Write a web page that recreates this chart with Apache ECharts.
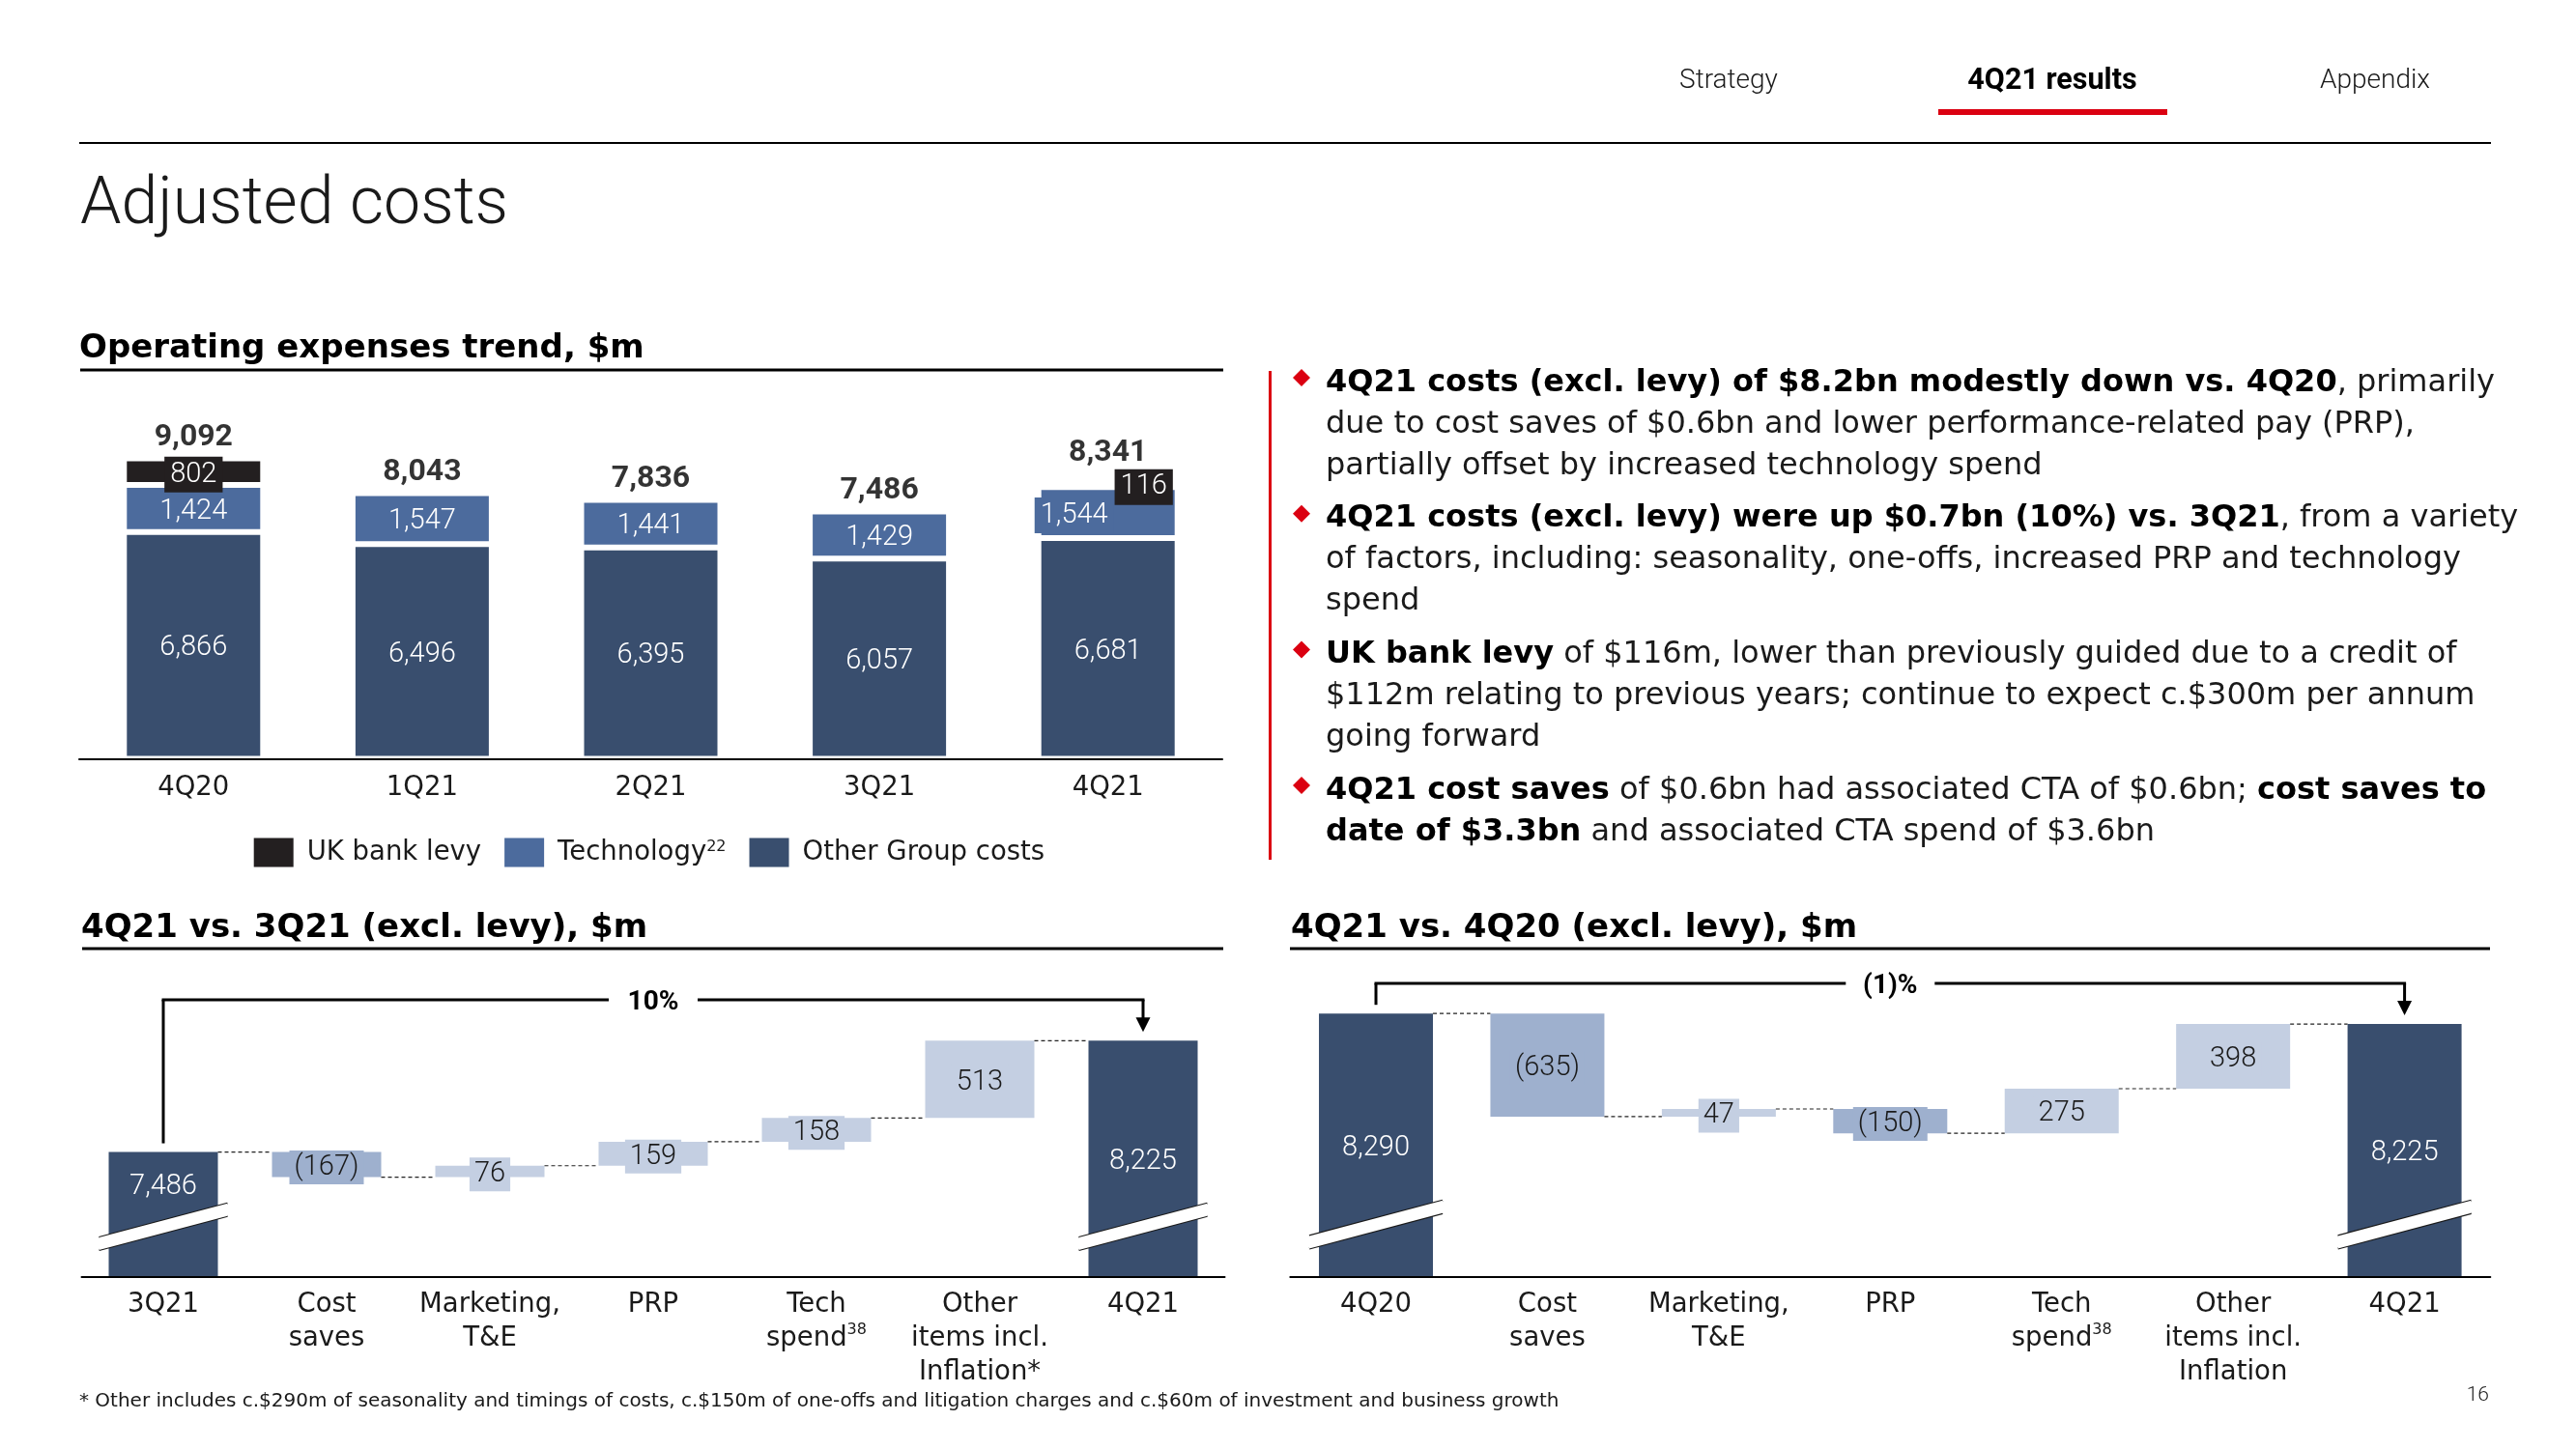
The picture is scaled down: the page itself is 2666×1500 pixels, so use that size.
<!DOCTYPE html>
<html><head><meta charset="utf-8">
<script src="https://cdn.jsdelivr.net/npm/echarts@6/dist/echarts.min.js"></script>
<style>html,body{margin:0;padding:0;background:#fff}#c{width:2666px;height:1500px}</style>
</head><body><div id="c"></div>
<script>
// ---------------- data ----------------
const trendCategories = ['4Q20', '1Q21', '2Q21', '3Q21', '4Q21'];
const otherGroupCosts = [6866, 6496, 6395, 6057, 6681];
const technologyCosts = [1424, 1547, 1441, 1429, 1544];
const ukBankLevy = [802, null, null, null, 116];
const trendTotals = [9092, 8043, 7836, 7486, 8341];
const legendNames = ['UK bank levy', 'Technology', 'Other Group costs'];

const wf1Labels = ['3Q21', 'Cost\nsaves', 'Marketing,\nT&E', 'PRP', 'Tech\nspend{sup|38}', 'Other\nitems incl.\nInflation*', '4Q21'];
const wf1Start = 7486;
const wf1Deltas = [-167, 76, 159, 158, 513];
const wf1End = 8225;
const wf1Change = '10%';

const wf2Labels = ['4Q20', 'Cost\nsaves', 'Marketing,\nT&E', 'PRP', 'Tech\nspend{sup|38}', 'Other\nitems incl.\nInflation', '4Q21'];
const wf2Start = 8290;
const wf2Deltas = [-635, 47, -150, 275, 398];
const wf2End = 8225;
const wf2Change = '(1)%';

const bullets = [
  [[['4Q21 costs (excl. levy) of $8.2bn modestly down vs. 4Q20', 1], [', primarily', 0]],
   [['due to cost saves of $0.6bn and lower performance-related pay (PRP),', 0]],
   [['partially offset by increased technology spend', 0]]],
  [[['4Q21 costs (excl. levy) were up $0.7bn (10%) vs. 3Q21', 1], [', from a variety', 0]],
   [['of factors, including: seasonality, one-offs, increased PRP and technology', 0]],
   [['spend', 0]]],
  [[['UK bank levy', 1], [' of $116m, lower than previously guided due to a credit of', 0]],
   [['$112m relating to previous years; continue to expect c.$300m per annum', 0]],
   [['going forward', 0]]],
  [[['4Q21 cost saves', 1], [' of $0.6bn had associated CTA of $0.6bn; ', 0], ['cost saves to', 1]],
   [['date of $3.3bn', 1], [' and associated CTA spend of $3.6bn', 0]]]
];
const footnote = '* Other includes c.$290m of seasonality and timings of costs, c.$150m of one-offs and litigation charges and c.$60m of investment and business growth';

// ---------------- style ----------------
const RB = 'Roboto, "Open Sans", "Liberation Sans", sans-serif';
const DJ = '"DejaVu Sans", Verdana, sans-serif';
const C_DARK = '#394E6E', C_TECH = '#4C6B9D', C_LEVY = '#231F20';
const C_NEG = '#9EB0CE', C_POS = '#C4CFE2', RED = '#DB0011', INK = '#1A1A1A';
const fmt = v => v.toLocaleString('en-US');
const LBL_DY = 3; // compensates canvas 'middle' baseline vs. cap centre

const chart = echarts.init(document.getElementById('c'), null, {renderer: 'canvas', width: 2666, height: 1500});

function waterfall(start, deltas, end) {
  const base = [0], vis = [start], levels = [start];
  let run = start;
  deltas.forEach(d => { const next = run + d; base.push(Math.min(run, next)); vis.push(Math.abs(d)); run = next; levels.push(run); });
  base.push(0); vis.push(end);
  return {base, vis, levels};
}
const wf1 = waterfall(wf1Start, wf1Deltas, wf1End);
const wf2 = waterfall(wf2Start, wf2Deltas, wf2End);

function wfSeries(axis, w, deltas, barW, startOffset) {
  const n = w.vis.length;
  const vis = w.vis.map((v, i) => {
    const isEnd = (i === 0 || i === n - 1);
    if (isEnd) return {value: v, itemStyle: {color: C_DARK},
      label: {color: '#fff', offset: [0, (i === 0 ? startOffset : 0) + LBL_DY]}};
    const col = deltas[i - 1] < 0 ? C_NEG : C_POS;
    return {value: v, itemStyle: {color: col}, label: {color: INK, backgroundColor: col, padding: [3, 5], offset: [0, LBL_DY]}};
  });
  return [
    {type: 'bar', xAxisIndex: axis, yAxisIndex: axis, stack: 'w' + axis, barWidth: barW, silent: true,
     itemStyle: {color: 'rgba(0,0,0,0)'}, data: w.base},
    {type: 'bar', xAxisIndex: axis, yAxisIndex: axis, stack: 'w' + axis, barWidth: barW, silent: true,
     data: vis,
     label: {show: true, position: 'inside', fontSize: 29, fontWeight: 300, fontFamily: RB,
       formatter: p => {
         const i = p.dataIndex;
         if (i === 0 || i === n - 1) return fmt(w.vis[i]);
         const d = deltas[i - 1];
         return d < 0 ? '(' + fmt(-d) + ')' : fmt(d);
       }}}
  ];
}

const catLabel = {interval: 0, fontSize: 27.5, fontWeight: 'normal', fontFamily: DJ, color: INK, lineHeight: 35, margin: 13,
  rich: {sup: {fontSize: 16, lineHeight: 20, verticalAlign: 'top', fontFamily: DJ, color: INK}}};
const catAxisBase = {
  type: 'category', axisTick: {show: false}, z: 10,
  axisLine: {lineStyle: {color: '#000', width: 2}}, axisLabel: catLabel
};

const inLabel = {show: true, position: 'inside', color: '#fff', fontSize: 29, fontWeight: 300, fontFamily: RB,
  offset: [0, LBL_DY], formatter: p => fmt(p.value)};

const option = {
  animation: false,
  textStyle: {fontFamily: RB},
  grid: [
    {left: 82, top: 443.5, width: 1183, height: 342, outerBoundsMode: 'none', containLabel: false},
    {left: 84.5, top: 1050, width: 1183, height: 271.4, outerBoundsMode: 'none', containLabel: false},
    {left: 1335.3, top: 1040.8, width: 1242, height: 280.6, outerBoundsMode: 'none', containLabel: false}
  ],
  xAxis: [
    Object.assign({}, catAxisBase, {gridIndex: 0, data: trendCategories}),
    Object.assign({}, catAxisBase, {gridIndex: 1, data: wf1Labels, axisLabel: Object.assign({}, catLabel, {margin: 12.3})}),
    Object.assign({}, catAxisBase, {gridIndex: 2, data: wf2Labels, axisLabel: Object.assign({}, catLabel, {margin: 12.3})})
  ],
  yAxis: [
    {type: 'value', gridIndex: 0, min: 0, max: 10000, show: false},
    {type: 'value', gridIndex: 1, min: 6660, max: 8400, show: false},
    {type: 'value', gridIndex: 2, min: 6670, max: 8340, show: false}
  ],
  legend: {
    data: legendNames, left: 257.7, top: 862.5, padding: 5, orient: 'horizontal',
    itemWidth: 41, itemHeight: 30, itemGap: 24, icon: 'rect', selectedMode: false,
    itemStyle: {borderWidth: 0},
    formatter: name => name === 'Technology' ? 'Technology{sup|22}' : name,
    textStyle: {fontSize: 27.5, fontWeight: 'normal', fontFamily: DJ, color: INK, padding: [0, 0, 0, 9],
      rich: {sup: {fontSize: 16, lineHeight: 18, verticalAlign: 'top', fontFamily: DJ, color: INK}}}
  },
  series: [
    {name: 'Other Group costs', type: 'bar', stack: 't', xAxisIndex: 0, yAxisIndex: 0, barWidth: 144, silent: true,
     itemStyle: {color: C_DARK, borderColor: '#fff', borderWidth: 3},
     label: inLabel, data: otherGroupCosts},
    {name: 'Technology', type: 'bar', stack: 't', xAxisIndex: 0, yAxisIndex: 0, barWidth: 144, silent: true,
     itemStyle: {color: C_TECH, borderColor: '#fff', borderWidth: 3},
     label: inLabel,
     data: technologyCosts.map((v, i) => i === 4 ? {value: v, label: {offset: [-35, LBL_DY], backgroundColor: C_TECH, padding: [4, 6]}} : v)},
    {name: 'UK bank levy', type: 'bar', stack: 't', xAxisIndex: 0, yAxisIndex: 0, barWidth: 144, silent: true,
     itemStyle: {color: C_LEVY, borderColor: '#fff', borderWidth: 3},
     label: Object.assign({}, inLabel, {backgroundColor: C_LEVY, padding: [4, 6]}),
     data: ukBankLevy.map((v, i) => i === 4 ? {value: v, label: {offset: [37, LBL_DY - 1]}} : v)},
    {name: 'total', type: 'scatter', xAxisIndex: 0, yAxisIndex: 0, symbolSize: 1, silent: true,
     itemStyle: {color: 'rgba(0,0,0,0)'},
     label: {show: true, position: 'top', distance: 5, color: '#000', fontSize: 32, fontWeight: 'bold', fontFamily: RB,
       formatter: p => fmt(trendTotals[p.dataIndex])},
     data: trendTotals.map((v, i) => i === 4 ? {value: v, label: {distance: 15}} : v)}
  ].concat(wfSeries(1, wf1, wf1Deltas, 113, -31), wfSeries(2, wf2, wf2Deltas, 118, 0))
};
chart.setOption(option);

// ---------------- graphics ----------------
const G = [];
// y given as cap-centre; canvas 'middle' sits ~0.105em above it
const T = (x, y, text, o) => {
  const st = Object.assign({text, fill: INK, fontSize: 28, fontWeight: 300, fontFamily: RB, align: 'left', verticalAlign: 'middle'}, o || {});
  return {type: 'text', x, y: y + 0.105 * st.fontSize, silent: true, z: 100, style: st};
};
const R = (x, y, w, h, fill) => ({type: 'rect', silent: true, z: 100, shape: {x, y, width: w, height: h}, style: {fill}});
const L = (x1, y1, x2, y2, st) => ({type: 'line', silent: true, z: 100, shape: {x1, y1, x2, y2}, style: Object.assign({stroke: '#000', lineWidth: 3}, st || {})});

// header
G.push(T(1789, 81.5, 'Strategy', {align: 'center'}));
G.push(T(2124, 81.5, '4Q21 results', {align: 'center', fontWeight: 700, fill: '#000', fontSize: 30.5}));
G.push(T(2458, 81.5, 'Appendix', {align: 'center'}));
G.push(R(2006, 113, 237, 6, RED));
G.push(R(82, 147, 2496, 2, '#000'));
G.push(T(83, 206.5, 'Adjusted costs', {fontSize: 68}));
// section headers
const H = {fontSize: 34, fontWeight: 'bold', fill: '#000', fontFamily: DJ};
G.push(T(82, 358, 'Operating expenses trend, $m', H));
G.push(R(83, 381.5, 1183, 3, '#000'));
G.push(T(84, 957.5, '4Q21 vs. 3Q21 (excl. levy), $m', H));
G.push(R(85, 980.5, 1181, 3, '#000'));
G.push(T(1336, 957.5, '4Q21 vs. 4Q20 (excl. levy), $m', H));
G.push(R(1335, 980.5, 1242, 3, '#000'));
G.push(R(1313, 384, 3, 506, RED));
G.push(T(82, 1449, footnote, {fontSize: 20, fontFamily: DJ, fontWeight: 'normal'}));
G.push(T(2576, 1443, '16', {fontSize: 21, align: 'right'}));

// bullets
const bulletStarts = [404.7, 545.3, 686, 826.6];
bullets.forEach((lines, k) => {
  const b0 = bulletStarts[k];
  const dy = b0 - 13.6;
  G.push({type: 'polygon', silent: true, z: 100, shape: {points: [[1347, dy - 9], [1356, dy], [1347, dy + 9], [1338, dy]]}, style: {fill: RED}});
  lines.forEach((segs, j) => {
    const base = b0 + 43.05 * j;
    const txt = segs.map(s => (s[1] ? '{b|' : '{r|') + s[0] + '}').join('');
    G.push({type: 'text', x: 1372, y: base - 0.26 * 32, silent: true, z: 100,
      style: {text: txt, align: 'left', verticalAlign: 'middle', fontSize: 32, fontFamily: DJ, fill: INK, rich: {
        b: {fontSize: 32, fontWeight: 'bold', fill: '#000', fontFamily: DJ},
        r: {fontSize: 32, fontWeight: 'normal', fill: INK, fontFamily: DJ}}}});
  });
});

// waterfall decorations, positioned through the chart's own scales
function wfDecor(axis, w, barW, change, bracketY) {
  const n = w.vis.length;
  const px = (i, v) => chart.convertToPixel({xAxisIndex: axis, yAxisIndex: axis}, [i, v]);
  const hw = barW / 2;
  for (let i = 0; i < n - 1; i++) {
    const a = px(i, w.levels[i]), b = px(i + 1, w.levels[i]);
    G.push(L(a[0] + hw, a[1], b[0] - hw, a[1], {stroke: '#222', lineWidth: 1.2, lineDash: [4, 3]}));
  }
  [0, n - 1].forEach(i => {
    const c = px(i, 6990);
    const e = 10, s = -0.265, t = 6.5;
    const xl = c[0] - hw - e, xr = c[0] + hw + e;
    const yl = c[1] + s * (xl - c[0]), yr = c[1] + s * (xr - c[0]);
    G.push({type: 'polygon', silent: true, z: 101, shape: {points: [[xl, yl - t], [xr, yr - t], [xr, yr + t], [xl, yl + t]]}, style: {fill: '#fff'}});
    G.push(L(xl, yl - t, xr, yr - t, {stroke: '#1A1A1A', lineWidth: 2.2}));
    G.push(L(xl, yl + t, xr, yr + t, {stroke: '#1A1A1A', lineWidth: 2.2}));
  });
  const s0 = px(0, w.vis[0]), s1 = px(n - 1, w.vis[n - 1]), mid = px(3, w.vis[0]);
  const tipY = s1[1] - 9;
  G.push(L(s0[0], s0[1] - 9, s0[0], bracketY));
  G.push(L(s0[0] - 1.5, bracketY, mid[0] - 46, bracketY));
  G.push(L(mid[0] + 46, bracketY, s1[0] + 1.5, bracketY));
  G.push(L(s1[0], bracketY, s1[0], tipY - 12));
  G.push({type: 'polygon', silent: true, z: 100, shape: {points: [[s1[0] - 7.5, tipY - 15], [s1[0] + 7.5, tipY - 15], [s1[0], tipY]]}, style: {fill: '#000'}});
  G.push(T(mid[0], bracketY, change, {align: 'center', fontSize: 28, fontWeight: 700, fill: '#000'}));
}
wfDecor(1, wf1, 113, wf1Change, 1035);
wfDecor(2, wf2, 118, wf2Change, 1018);

chart.setOption({graphic: G});
</script>
</body></html>
